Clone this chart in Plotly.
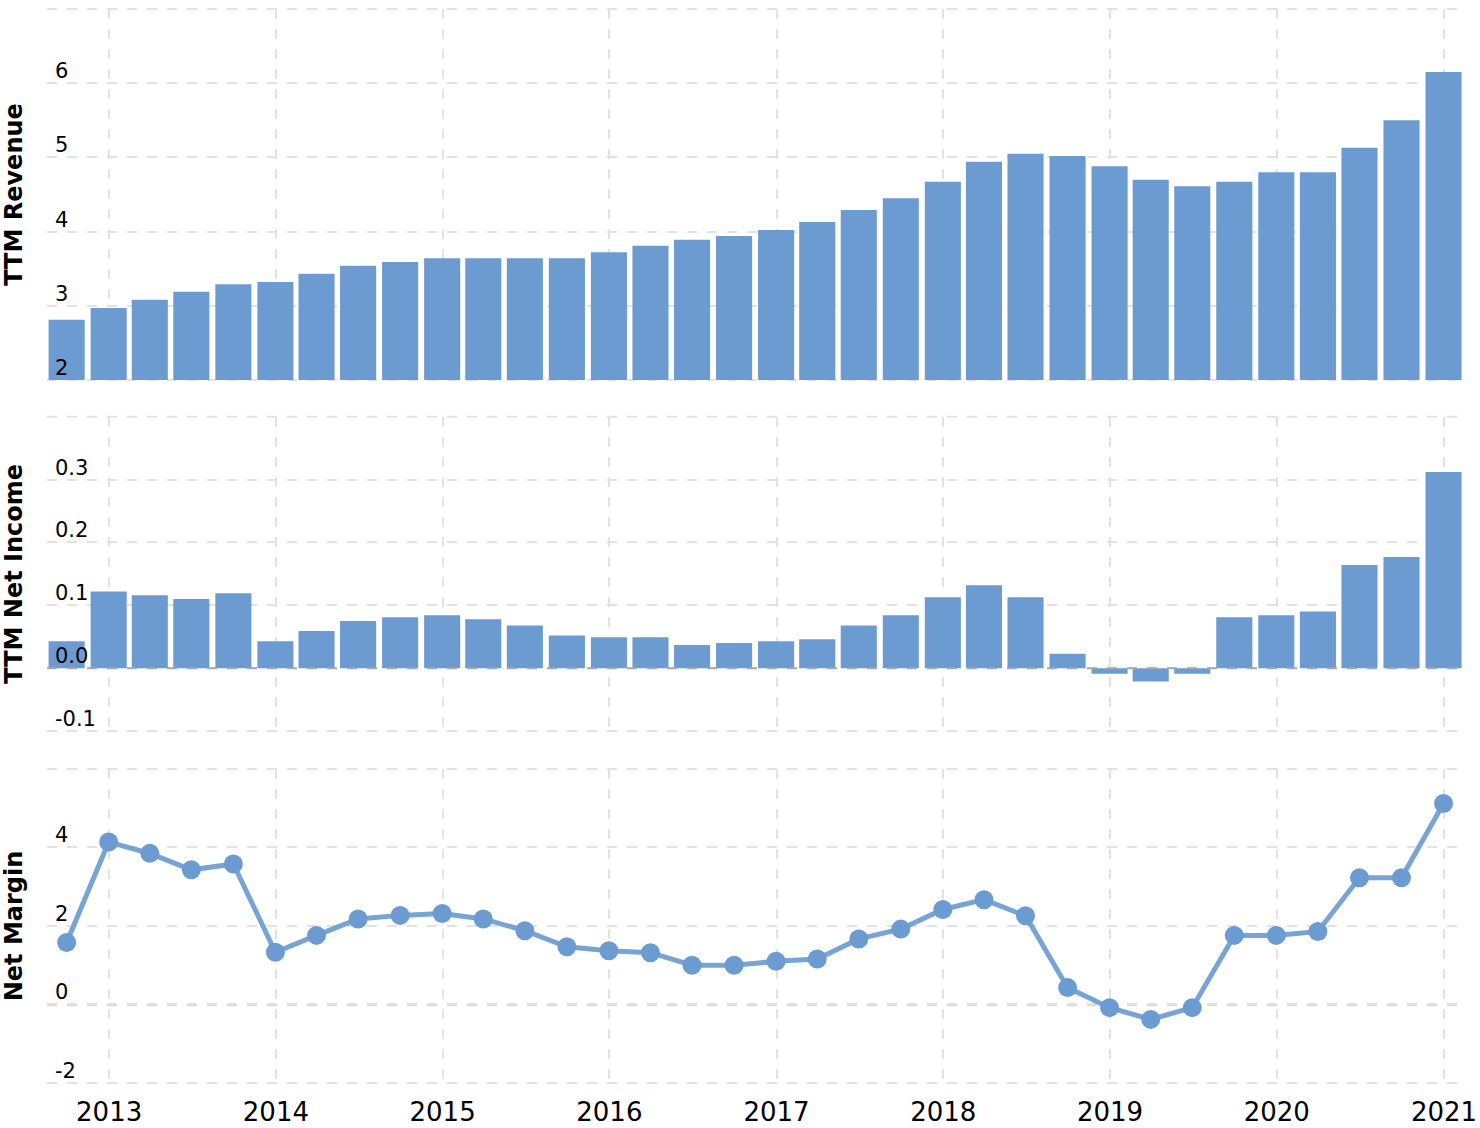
import plotly.graph_objects as go
from plotly.subplots import make_subplots

quarters = [
    "2012-09-30", "2012-12-31", "2013-03-31", "2013-06-30", "2013-09-30", "2013-12-31",
    "2014-03-31", "2014-06-30", "2014-09-30", "2014-12-31", "2015-03-31", "2015-06-30",
    "2015-09-30", "2015-12-31", "2016-03-31", "2016-06-30", "2016-09-30", "2016-12-31",
    "2017-03-31", "2017-06-30", "2017-09-30", "2017-12-31", "2018-03-31", "2018-06-30",
    "2018-09-30", "2018-12-31", "2019-03-31", "2019-06-30", "2019-09-30", "2019-12-31",
    "2020-03-31", "2020-06-30", "2020-09-30", "2020-12-31",
]

ttm_revenue = [
    2.81, 2.97, 3.08, 3.19, 3.29, 3.32, 3.43, 3.54, 3.59, 3.64, 3.64, 3.64,
    3.64, 3.72, 3.81, 3.89, 3.94, 4.02, 4.13, 4.29, 4.45, 4.67, 4.94, 5.05,
    5.02, 4.88, 4.70, 4.61, 4.67, 4.80, 4.80, 5.13, 5.50, 6.15,
]

ttm_net_income = [
    0.043, 0.122, 0.116, 0.110, 0.119, 0.043, 0.059, 0.075, 0.081, 0.084, 0.078, 0.068,
    0.052, 0.049, 0.049, 0.037, 0.040, 0.043, 0.046, 0.068, 0.084, 0.113, 0.132, 0.113,
    0.023, -0.009, -0.021, -0.009, 0.081, 0.084, 0.090, 0.164, 0.177, 0.312,
]

net_margin = [
    1.58, 4.14, 3.85, 3.43, 3.58, 1.33, 1.76, 2.18, 2.27, 2.32, 2.18, 1.88,
    1.47, 1.37, 1.32, 1.00, 1.00, 1.10, 1.16, 1.67, 1.92, 2.42, 2.67, 2.26,
    0.43, -0.08, -0.38, -0.08, 1.76, 1.76, 1.86, 3.23, 3.23, 5.12,
]

y_titles = ["TTM Revenue", "TTM Net Income", "Net Margin"]
y_ranges = [[2, 7], [-0.1, 0.4], [-2, 6]]
y_tickvals = [[2, 3, 4, 5, 6], [-0.1, 0.0, 0.1, 0.2, 0.3], [-2, 0, 2, 4]]
y_ticktext = [["2", "3", "4", "5", "6"],
              ["-0.1", "0.0", "0.1", "0.2", "0.3"],
              ["-2", "0", "2", "4"]]

BLUE = "rgb(107,155,209)"
GRID = "#e2e2e2"
FONT = "Verdana, DejaVu Sans, sans-serif"
DAY_MS = 86400000

fig = make_subplots(rows=3, cols=1, shared_xaxes=True)

fig.add_trace(go.Bar(x=quarters, y=ttm_revenue, marker=dict(color=BLUE, line=dict(width=0)),
                     width=79 * DAY_MS), row=1, col=1)
fig.add_trace(go.Bar(x=quarters, y=ttm_net_income, marker=dict(color=BLUE, line=dict(width=0)),
                     width=79 * DAY_MS), row=2, col=1)
fig.add_trace(go.Scatter(x=quarters, y=net_margin, mode="lines+markers",
                         line=dict(color="rgba(107,155,209,0.92)", width=5),
                         marker=dict(color=BLUE, size=19)), row=3, col=1)

domains = [[0.6546, 1.0], [0.3277, 0.6204], [0.0, 0.2924]]
for i in range(3):
    fig.update_yaxes(
        row=i + 1, col=1,
        domain=domains[i], range=y_ranges[i],
        tickmode="array", tickvals=y_tickvals[i], showticklabels=False,
        showgrid=True, gridcolor=GRID, gridwidth=2, griddash="10px,10px",
        zeroline=False, showline=False, ticks="",
        title=dict(text="<b>" + y_titles[i] + "</b>", standoff=30,
                   font=dict(family=FONT, size=24, color="#000")),
        automargin=False, fixedrange=True,
    )
    fig.update_xaxes(
        row=i + 1, col=1,
        type="date", range=["2012-08-18", "2021-02-16"],
        dtick="M12", tick0="2013-01-01", tickformat="%Y",
        showgrid=True, gridcolor=GRID, gridwidth=2, griddash="10px,10px",
        zeroline=False, showline=False, ticks="",
        tickfont=dict(family=FONT, size=26, color="#000"),
        ticklabelstandoff=11,
        automargin=False, fixedrange=True,
    )
    # y tick labels sitting just above their gridlines, inside the plot
    for v, t in zip(y_tickvals[i], y_ticktext[i]):
        fig.add_annotation(
            x=0, xref=f"x{i + 1 if i else ''} domain", y=v, yref=f"y{i + 1 if i else ''}",
            text=t, showarrow=False, xanchor="left", yanchor="middle",
            xshift=6, yshift=12, font=dict(family=FONT, size=21, color="#000"),
        )
    # gridlines on the top and bottom edges of each panel
    for yp in domains[i]:
        fig.add_shape(type="line", xref="paper", yref="paper", x0=0, x1=1, y0=yp, y1=yp,
                      line=dict(color=GRID, width=2, dash="10px,10px"), layer="below")

fig.add_shape(type="line", xref="x2 domain", yref="y2", x0=0, x1=1, y0=0, y1=0,
              line=dict(color="#a8a8a8", width=2, dash="10px,10px"), layer="above")
fig.add_shape(type="line", xref="x3 domain", yref="y3", x0=0, x1=1, y0=0, y1=0,
              line=dict(color="#b0b0b0", width=2, dash="10px,10px"), layer="below")

fig.update_layout(
    width=1480, height=1128,
    margin=dict(l=47, r=15, t=9, b=45),
    plot_bgcolor="white", paper_bgcolor="white",
    showlegend=False, hovermode=False,
    font=dict(family=FONT, color="#000"),
)

fig.write_html("out.html")
